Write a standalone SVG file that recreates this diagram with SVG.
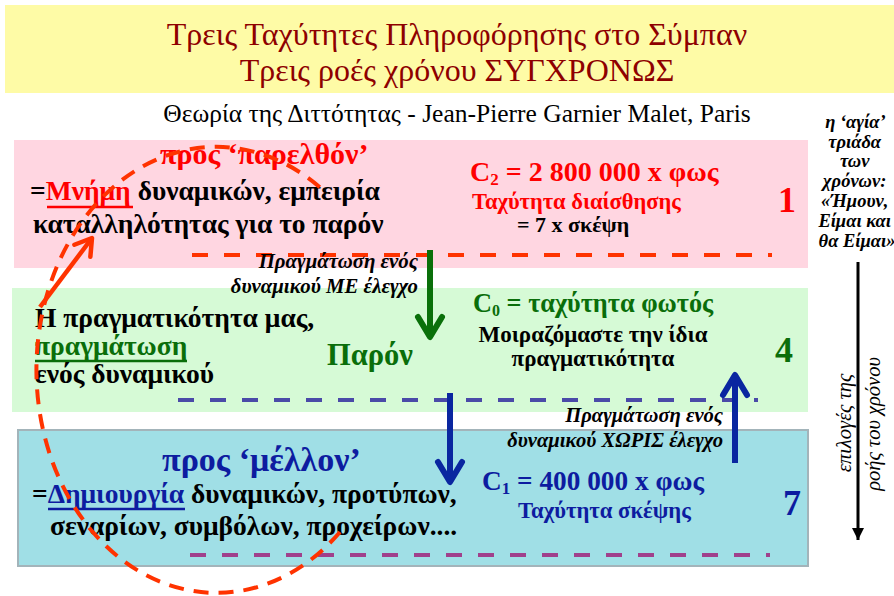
<svg xmlns="http://www.w3.org/2000/svg" width="894" height="596" viewBox="0 0 894 596" font-family="'Liberation Serif', 'Times New Roman', Times, 'DejaVu Serif', serif">
<style>
.f{font-family:'Liberation Serif','Times New Roman',Times,'DejaVu Serif',serif}
.b{font-weight:bold}
.bi{font-weight:bold;font-style:italic}
.red{fill:#FF0000}
.grn{fill:#0A6E0A}
.blu{fill:#0D1CA0}
.k{fill:#000}
.mid{text-anchor:middle}
.end{text-anchor:end}
.body{font-size:27.5px;font-weight:bold}
.dash{fill:none;stroke-width:4;stroke-dasharray:16 16}
</style>
<defs>
<marker id="hG" markerUnits="userSpaceOnUse" viewBox="-26 -17 32 34" markerWidth="32" markerHeight="34" refX="0" refY="0" orient="auto">
<path d="M-20,-12 L0,0 L-20,12" fill="none" stroke="#0A700A" stroke-width="6" stroke-linecap="round" stroke-linejoin="round"/>
</marker>
<marker id="hB" markerUnits="userSpaceOnUse" viewBox="-26 -17 32 34" markerWidth="32" markerHeight="34" refX="0" refY="0" orient="auto">
<path d="M-20,-12 L0,0 L-20,12" fill="none" stroke="#0A26A0" stroke-width="6" stroke-linecap="round" stroke-linejoin="round"/>
</marker>
<marker id="hR" markerUnits="userSpaceOnUse" viewBox="-22 -14 26 28" markerWidth="26" markerHeight="28" refX="0" refY="0" orient="auto">
<path d="M-16,-10 L0,0 L-16,10" fill="none" stroke="#FF3300" stroke-width="4.5" stroke-linecap="round" stroke-linejoin="round"/>
</marker>
<marker id="hK" markerUnits="userSpaceOnUse" viewBox="-12 -7 12 14" markerWidth="12" markerHeight="14" refX="0" refY="0" orient="auto">
<path d="M-12,-6 L0,0 L-12,6 z" fill="#000"/>
</marker>
</defs>

<g id="title" class="f">
<rect x="5" y="5" width="889" height="88" fill="#FEFBA6"/>
<text x="457" y="45" class="f mid" font-size="32" fill="#8E0000">Τρεις Ταχύτητες Πληροφόρησης στο Σύμπαν</text>
<text x="457" y="81" class="f mid" font-size="32" fill="#8E0000">Τρεις ροές χρόνου ΣΥΓΧΡΟΝΩΣ</text>
<text x="457" y="122" class="f mid" font-size="25.5" fill="#000">Θεωρία της Διττότητας - Jean-Pierre Garnier Malet, Paris</text>
</g>

<g id="past" class="f">
<rect x="14" y="140" width="794" height="128" fill="#FFD6E1"/>
<text x="160" y="164" class="f b red" font-size="30">προς ‘παρελθόν’</text>
<text x="30" y="200" class="f body k">=<tspan class="red">Μνήμη</tspan> δυναμικών, εμπειρία</text>
<line x1="47" y1="207" x2="133" y2="207" stroke="#FF0000" stroke-width="2.5"/>
<text x="33" y="233" class="f body k">καταλληλότητας για το παρόν</text>
<text x="470" y="181" class="f b red" font-size="28">C<tspan font-size="17" dy="4">2</tspan><tspan dy="-4"> = 2 800 000 x φως</tspan></text>
<text x="472" y="209" class="f b red" font-size="22.5">Ταχύτητα διαίσθησης</text>
<text x="517" y="232" class="f b k" font-size="22">= 7 x σκέψη</text>
<text x="778" y="212" class="f b red" font-size="36">1</text>
</g>

<g id="present" class="f">
<rect x="12" y="288" width="796" height="124" fill="#D6FAD6"/>
<text x="35" y="327" class="f body k">Η πραγματικότητα μας,</text>
<text x="35" y="355" class="f body grn">πραγμάτωση</text>
<line x1="35" y1="361" x2="187" y2="361" stroke="#0A6E0A" stroke-width="2.5"/>
<text x="35" y="383" class="f body k">ενός δυναμικού</text>
<text x="327" y="365" class="f b grn" font-size="30.5">Παρόν</text>
<text x="473" y="312" class="f b grn" font-size="26.3">C<tspan font-size="16" dy="4">0</tspan><tspan dy="-4"> = ταχύτητα φωτός</tspan></text>
<text x="593" y="342" class="f b k mid" font-size="23">Μοιραζόμαστε την ίδια</text>
<text x="593" y="366" class="f b k mid" font-size="23">πραγματικότητα</text>
<text x="775" y="362" class="f b grn" font-size="36">4</text>
</g>

<g id="future" class="f">
<rect x="18" y="430" width="790" height="136" fill="#A0DFE6" stroke="#A3B4BA" stroke-width="2"/>
<text x="162" y="471" class="f b blu" font-size="34">προς ‘μέλλον’</text>
<text x="32" y="503" class="f body k">=<tspan class="blu">Δημιουργία</tspan> δυναμικών, προτύπων,</text>
<line x1="48" y1="509" x2="185" y2="509" stroke="#0D1CA0" stroke-width="2.5"/>
<text x="50" y="535" class="f body k">σεναρίων, συμβόλων, προχείρων....</text>
<text x="482" y="490" class="f b blu" font-size="27.3">C<tspan font-size="17" dy="4">1</tspan><tspan dy="-4"> = 400 000 x φως</tspan></text>
<text x="518" y="518" class="f b blu" font-size="22.7">Ταχύτητα σκέψης</text>
<text x="783" y="515" class="f b blu" font-size="36">7</text>
</g>

<g id="legend" class="f">
<text class="f bi mid k" font-size="18.5">
<tspan x="857" y="128">η ‘αγία’</tspan>
<tspan x="857" y="148">τριάδα</tspan>
<tspan x="857" y="167">των</tspan>
<tspan x="857" y="187">χρόνων:</tspan>
<tspan x="857" y="207">«Ήμουν,</tspan>
<tspan x="857" y="227">Είμαι και</tspan>
<tspan x="857" y="247">θα Είμαι»</tspan>
</text>
<line x1="858" y1="262" x2="858" y2="540" stroke="#000" stroke-width="3" marker-end="url(#hK)"/>
<text transform="translate(851,423) rotate(-90)" class="f mid k" font-style="italic" font-size="20.5">επιλογές της</text>
<text transform="translate(880,424) rotate(-90)" class="f mid k" font-style="italic" font-size="20.5">ροής του χρόνου</text>
</g>

<g id="connectors" class="f">
<path class="dash" d="M192,255 H772" stroke="#FF3300"/>
<path class="dash" d="M178,400 H758" stroke="#4A4AA8"/>
<path class="dash" d="M190,555 H770" stroke="#A0408C"/>
<path d="M340,532 A180,223 0 1 1 325,192" fill="none" stroke="#FF3300" stroke-width="4" stroke-dasharray="15 10"/>
<line x1="40" y1="307" x2="92" y2="238" stroke="#FF3300" stroke-width="4.5" marker-end="url(#hR)"/>
<line x1="430" y1="250" x2="430" y2="337" stroke="#0A700A" stroke-width="6" marker-end="url(#hG)"/>
<line x1="450" y1="393" x2="450" y2="482" stroke="#0A26A0" stroke-width="6" marker-end="url(#hB)"/>
<line x1="735" y1="463" x2="735" y2="375" stroke="#0A26A0" stroke-width="6" marker-end="url(#hB)"/>
<text class="f bi k end" font-size="20.8"><tspan x="418" y="268">Πραγμάτωση ενός</tspan><tspan x="418" y="293">δυναμικού ΜΕ έλεγχο</tspan></text>
<text class="f bi k end" font-size="20.6"><tspan x="723" y="422">Πραγμάτωση ενός</tspan><tspan x="723" y="447">δυναμικού ΧΩΡΙΣ έλεγχο</tspan></text>
</g>
</svg>
